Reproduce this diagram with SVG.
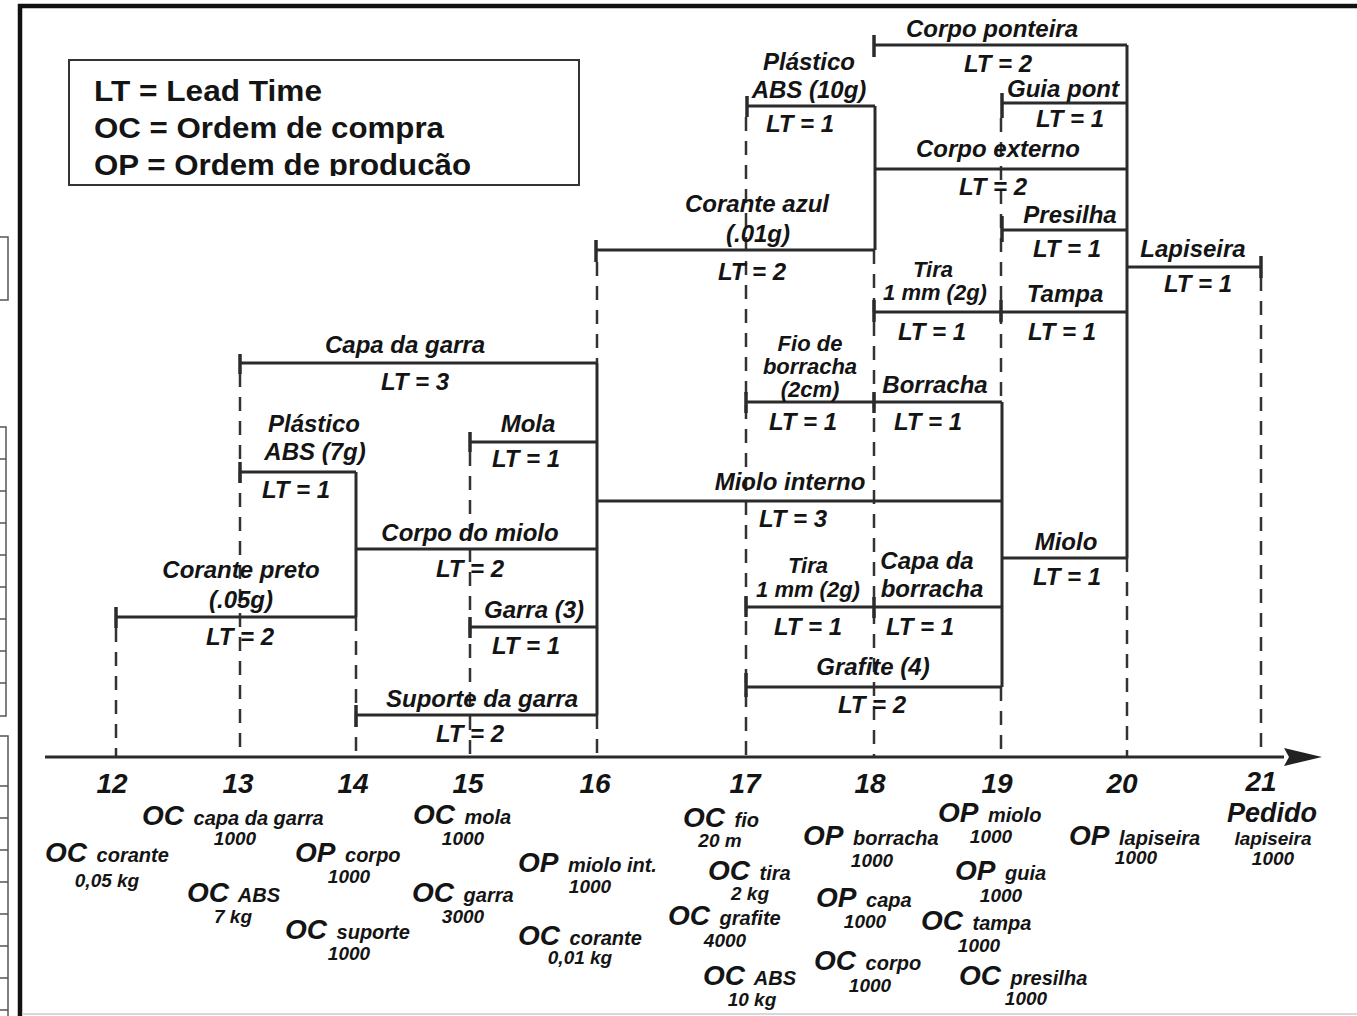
<svg xmlns="http://www.w3.org/2000/svg" width="1357" height="1016" viewBox="0 0 1357 1016">
<style>
.bar{stroke:#2b2b2b;stroke-width:3;fill:none}
.tk{stroke:#2b2b2b;stroke-width:3.5;fill:none}
.dash{stroke:#333;stroke-width:2.5;stroke-dasharray:14 10;fill:none}
.frag{stroke:#555;stroke-width:1.5;fill:none}
text{font-family:"Liberation Sans",Arial,Helvetica,sans-serif;font-weight:bold;fill:#141414}
.lbl{font-style:italic;font-size:24px;text-anchor:middle}
.st{font-size:22px}
.ax{font-style:italic;font-size:28px;text-anchor:middle}
.ord{font-style:italic}
.big{font-size:28px}
.sm{font-size:20px}
.num{font-style:italic;font-size:19px;text-anchor:middle}
.leg{font-size:29px}
</style>
<defs>
<marker id="arr" markerWidth="40" markerHeight="20" refX="0" refY="10" orient="auto" markerUnits="userSpaceOnUse">
<path d="M0,1 L38,10 L0,19 L5,10 Z" fill="#222"/>
</marker>
<clipPath id="legclip"><rect x="60" y="55" width="530" height="121"/></clipPath>
</defs>
<rect width="1357" height="1016" fill="#fff"/>
<g id="frame">
<line x1="18" y1="6" x2="1357" y2="6" stroke="#111" stroke-width="4.5"/>
<line x1="20" y1="4" x2="20" y2="1016" stroke="#111" stroke-width="4.5"/>
<line x1="22" y1="1014" x2="1357" y2="1014" stroke="#d8d8d8" stroke-width="2"/>
<rect class="frag" x="-2" y="237" width="10" height="63"/>
<rect class="frag" x="-2" y="427" width="8" height="289"/>
<path class="frag" d="M0,459H6M0,491H6M0,523H6M0,555H6M0,587H6M0,619H6M0,651H6M0,683H6"/>
<rect class="frag" x="-2" y="736" width="10" height="290"/>
<path class="frag" d="M0,786H8M0,818H8M0,850H8M0,882H8M0,914H8M0,946H8M0,978H8M0,1010H8"/>
</g>
<g id="legend">
<rect x="69" y="60" width="510" height="125" fill="none" stroke="#333" stroke-width="2"/>
<g clip-path="url(#legclip)">
<text class="leg" x="94" y="101" textLength="228" lengthAdjust="spacingAndGlyphs">LT = Lead Time</text>
<text class="leg" x="94" y="138" textLength="350" lengthAdjust="spacingAndGlyphs">OC = Ordem de compra</text>
<text class="leg" x="94" y="175" textLength="377" lengthAdjust="spacingAndGlyphs">OP = Ordem de producão</text>
</g>
</g>
<g id="guides">
<line class="dash" x1="116" y1="628" x2="116" y2="757"/>
<line class="dash" x1="240" y1="373" x2="240" y2="757"/>
<line class="dash" x1="356" y1="617" x2="356" y2="757"/>
<line class="dash" x1="470" y1="452" x2="470" y2="757"/>
<line class="dash" x1="597" y1="262" x2="597" y2="363"/>
<line class="dash" x1="597" y1="715" x2="597" y2="757"/>
<line class="dash" x1="746" y1="117" x2="746" y2="757"/>
<line class="dash" x1="874" y1="250" x2="874" y2="757"/>
<line class="dash" x1="1001" y1="118" x2="1001" y2="402"/>
<line class="dash" x1="1001" y1="687" x2="1001" y2="757"/>
<line class="dash" x1="1127" y1="558" x2="1127" y2="757"/>
<line class="dash" x1="1261" y1="277" x2="1261" y2="757"/>
</g>
<g id="connectors">
<line class="bar" x1="356" y1="472" x2="356" y2="617"/>
<line class="bar" x1="597" y1="363" x2="597" y2="715"/>
<line class="bar" x1="875" y1="106" x2="875" y2="250"/>
<line class="bar" x1="1002" y1="402" x2="1002" y2="687"/>
<line class="bar" x1="1127" y1="45" x2="1127" y2="558"/>
</g>
<g id="corpo-ponteira">
<line class="tk" x1="874" y1="35" x2="874" y2="57"/>
<line class="bar" x1="874" y1="45" x2="1127" y2="45"/>
<text class="lbl" x="992" y="37">Corpo ponteira</text>
<text class="lbl" x="998" y="72">LT = 2</text>
</g>
<g id="plastico-abs-10g">
<line class="tk" x1="747" y1="96" x2="747" y2="117"/>
<line class="bar" x1="747" y1="106" x2="875" y2="106"/>
<text class="lbl" x="809" y="70">Plástico</text>
<text class="lbl" x="809" y="98">ABS (10g)</text>
<text class="lbl" x="800" y="132">LT = 1</text>
</g>
<g id="corante-azul">
<line class="tk" x1="596" y1="240" x2="596" y2="262"/>
<line class="bar" x1="596" y1="250" x2="875" y2="250"/>
<text class="lbl" x="757" y="212">Corante azul</text>
<text class="lbl" x="758" y="242">(.01g)</text>
<text class="lbl" x="752" y="280">LT = 2</text>
</g>
<g id="corpo-externo">
<line class="bar" x1="875" y1="169" x2="1127" y2="169"/>
<text class="lbl" x="998" y="157">Corpo externo</text>
<text class="lbl" x="993" y="195">LT = 2</text>
</g>
<g id="guia-pont">
<line class="tk" x1="1002" y1="93" x2="1002" y2="118"/>
<line class="bar" x1="1002" y1="103" x2="1127" y2="103"/>
<text class="lbl" x="1063" y="97">Guia pont</text>
<text class="lbl" x="1070" y="127">LT = 1</text>
</g>
<g id="presilha">
<line class="tk" x1="1002" y1="216" x2="1002" y2="242"/>
<line class="bar" x1="1002" y1="230" x2="1127" y2="230"/>
<text class="lbl" x="1070" y="223">Presilha</text>
<text class="lbl" x="1067" y="257">LT = 1</text>
</g>
<g id="lapiseira">
<line class="bar" x1="1127" y1="267" x2="1261" y2="267"/>
<line class="tk" x1="1261" y1="256" x2="1261" y2="278"/>
<text class="lbl" x="1193" y="257">Lapiseira</text>
<text class="lbl" x="1198" y="292">LT = 1</text>
</g>
<g id="tira-top">
<line class="tk" x1="874" y1="300" x2="874" y2="322"/>
<line class="bar" x1="874" y1="312" x2="1001" y2="312"/>
<line class="tk" x1="1001" y1="300" x2="1001" y2="322"/>
<text class="lbl st" x="933" y="277">Tira</text>
<text class="lbl st" x="935" y="300">1 mm (2g)</text>
<text class="lbl" x="932" y="340">LT = 1</text>
</g>
<g id="tampa">
<line class="bar" x1="1001" y1="312" x2="1127" y2="312"/>
<text class="lbl" x="1065" y="302">Tampa</text>
<text class="lbl" x="1062" y="340">LT = 1</text>
</g>
<g id="capa-da-garra">
<line class="tk" x1="240" y1="354" x2="240" y2="374"/>
<line class="bar" x1="240" y1="363" x2="597" y2="363"/>
<text class="lbl" x="405" y="353">Capa da garra</text>
<text class="lbl" x="415" y="390">LT = 3</text>
</g>
<g id="mola">
<line class="tk" x1="470" y1="432" x2="470" y2="452"/>
<line class="bar" x1="470" y1="442" x2="597" y2="442"/>
<text class="lbl" x="528" y="432">Mola</text>
<text class="lbl" x="526" y="467">LT = 1</text>
</g>
<g id="plastico-abs-7g">
<line class="tk" x1="240" y1="462" x2="240" y2="483"/>
<line class="bar" x1="240" y1="472" x2="356" y2="472"/>
<text class="lbl" x="314" y="432">Plástico</text>
<text class="lbl" x="315" y="460">ABS (7g)</text>
<text class="lbl" x="296" y="498">LT = 1</text>
</g>
<g id="corpo-do-miolo">
<line class="bar" x1="356" y1="549" x2="597" y2="549"/>
<text class="lbl" x="470" y="541">Corpo do miolo</text>
<text class="lbl" x="470" y="577">LT = 2</text>
</g>
<g id="corante-preto">
<line class="tk" x1="116" y1="607" x2="116" y2="628"/>
<line class="bar" x1="116" y1="617" x2="356" y2="617"/>
<text class="lbl" x="241" y="578">Corante preto</text>
<text class="lbl" x="241" y="608">(.05g)</text>
<text class="lbl" x="240" y="645">LT = 2</text>
</g>
<g id="garra">
<line class="tk" x1="470" y1="617" x2="470" y2="638"/>
<line class="bar" x1="470" y1="627" x2="597" y2="627"/>
<text class="lbl" x="534" y="618">Garra (3)</text>
<text class="lbl" x="526" y="654">LT = 1</text>
</g>
<g id="suporte-da-garra">
<line class="tk" x1="356" y1="705" x2="356" y2="727"/>
<line class="bar" x1="356" y1="715" x2="597" y2="715"/>
<text class="lbl" x="482" y="707">Suporte da garra</text>
<text class="lbl" x="470" y="742">LT = 2</text>
</g>
<g id="fio-de-borracha">
<line class="tk" x1="746" y1="392" x2="746" y2="413"/>
<line class="bar" x1="746" y1="402" x2="874" y2="402"/>
<line class="tk" x1="874" y1="392" x2="874" y2="413"/>
<text class="lbl st" x="810" y="351">Fio de</text>
<text class="lbl st" x="810" y="374">borracha</text>
<text class="lbl st" x="810" y="397">(2cm)</text>
<text class="lbl" x="803" y="430">LT = 1</text>
</g>
<g id="borracha">
<line class="bar" x1="874" y1="402" x2="1002" y2="402"/>
<text class="lbl" x="935" y="393">Borracha</text>
<text class="lbl" x="928" y="430">LT = 1</text>
</g>
<g id="miolo-interno">
<line class="bar" x1="597" y1="501" x2="1002" y2="501"/>
<text class="lbl" x="790" y="490">Miolo interno</text>
<text class="lbl" x="793" y="527">LT = 3</text>
</g>
<g id="tira-lower">
<line class="tk" x1="746" y1="596" x2="746" y2="617"/>
<line class="bar" x1="746" y1="607" x2="874" y2="607"/>
<line class="tk" x1="874" y1="597" x2="874" y2="618"/>
<text class="lbl st" x="808" y="573">Tira</text>
<text class="lbl st" x="808" y="597">1 mm (2g)</text>
<text class="lbl" x="808" y="635">LT = 1</text>
</g>
<g id="capa-da-borracha">
<line class="bar" x1="874" y1="607" x2="1002" y2="607"/>
<text class="lbl" x="927" y="569">Capa da</text>
<text class="lbl" x="932" y="597">borracha</text>
<text class="lbl" x="920" y="635">LT = 1</text>
</g>
<g id="grafite">
<line class="tk" x1="746" y1="673" x2="746" y2="697"/>
<line class="bar" x1="746" y1="687" x2="1002" y2="687"/>
<text class="lbl" x="873" y="675">Grafite (4)</text>
<text class="lbl" x="872" y="713">LT = 2</text>
</g>
<g id="miolo">
<line class="bar" x1="1002" y1="558" x2="1127" y2="558"/>
<text class="lbl" x="1066" y="550">Miolo</text>
<text class="lbl" x="1067" y="585">LT = 1</text>
</g>
<g id="axis">
<line x1="45" y1="757" x2="1284" y2="757" stroke="#2b2b2b" stroke-width="3" marker-end="url(#arr)"/>
<text class="ax" x="112" y="793">12</text>
<text class="ax" x="238" y="793">13</text>
<text class="ax" x="353" y="793">14</text>
<text class="ax" x="468" y="793">15</text>
<text class="ax" x="595" y="793">16</text>
<text class="ax" x="745" y="793">17</text>
<text class="ax" x="870" y="793">18</text>
<text class="ax" x="997" y="793">19</text>
<text class="ax" x="1122" y="793">20</text>
<text class="ax" x="1261" y="791">21</text>
</g>
<g id="orders">
<text class="ord" x="142" y="825"><tspan class="big">OC</tspan><tspan class="sm" dx="4"> capa da garra</tspan></text>
<text class="num" x="235" y="845">1000</text>
<text class="ord" x="45" y="862"><tspan class="big">OC</tspan><tspan class="sm" dx="4"> corante</tspan></text>
<text class="num" x="107" y="887">0,05 kg</text>
<text class="ord" x="187" y="902"><tspan class="big">OC</tspan><tspan class="sm" dx="4"> ABS</tspan></text>
<text class="num" x="233" y="923">7 kg</text>
<text class="ord" x="295" y="862"><tspan class="big">OP</tspan><tspan class="sm" dx="4"> corpo</tspan></text>
<text class="num" x="349" y="883">1000</text>
<text class="ord" x="285" y="939"><tspan class="big">OC</tspan><tspan class="sm" dx="4"> suporte</tspan></text>
<text class="num" x="349" y="960">1000</text>
<text class="ord" x="413" y="824"><tspan class="big">OC</tspan><tspan class="sm" dx="4"> mola</tspan></text>
<text class="num" x="463" y="845">1000</text>
<text class="ord" x="412" y="902"><tspan class="big">OC</tspan><tspan class="sm" dx="4"> garra</tspan></text>
<text class="num" x="463" y="923">3000</text>
<text class="ord" x="518" y="872"><tspan class="big">OP</tspan><tspan class="sm" dx="4"> miolo int.</tspan></text>
<text class="num" x="590" y="893">1000</text>
<text class="ord" x="518" y="945"><tspan class="big">OC</tspan><tspan class="sm" dx="4"> corante</tspan></text>
<text class="num" x="580" y="964">0,01 kg</text>
<text class="ord" x="683" y="827"><tspan class="big">OC</tspan><tspan class="sm" dx="4"> fio</tspan></text>
<text class="num" x="720" y="847">20 m</text>
<text class="ord" x="708" y="880"><tspan class="big">OC</tspan><tspan class="sm" dx="4"> tira</tspan></text>
<text class="num" x="750" y="900">2 kg</text>
<text class="ord" x="668" y="925"><tspan class="big">OC</tspan><tspan class="sm" dx="4"> grafite</tspan></text>
<text class="num" x="725" y="947">4000</text>
<text class="ord" x="703" y="985"><tspan class="big">OC</tspan><tspan class="sm" dx="4"> ABS</tspan></text>
<text class="num" x="752" y="1006">10 kg</text>
<text class="ord" x="803" y="845"><tspan class="big">OP</tspan><tspan class="sm" dx="4"> borracha</tspan></text>
<text class="num" x="872" y="867">1000</text>
<text class="ord" x="816" y="907"><tspan class="big">OP</tspan><tspan class="sm" dx="4"> capa</tspan></text>
<text class="num" x="865" y="928">1000</text>
<text class="ord" x="814" y="970"><tspan class="big">OC</tspan><tspan class="sm" dx="4"> corpo</tspan></text>
<text class="num" x="870" y="992">1000</text>
<text class="ord" x="938" y="822"><tspan class="big">OP</tspan><tspan class="sm" dx="4"> miolo</tspan></text>
<text class="num" x="991" y="843">1000</text>
<text class="ord" x="955" y="880"><tspan class="big">OP</tspan><tspan class="sm" dx="4"> guia</tspan></text>
<text class="num" x="1001" y="902">1000</text>
<text class="ord" x="921" y="930"><tspan class="big">OC</tspan><tspan class="sm" dx="4"> tampa</tspan></text>
<text class="num" x="979" y="952">1000</text>
<text class="ord" x="959" y="985"><tspan class="big">OC</tspan><tspan class="sm" dx="4"> presilha</tspan></text>
<text class="num" x="1026" y="1005">1000</text>
<text class="ord" x="1069" y="845"><tspan class="big">OP</tspan><tspan class="sm" dx="4"> lapiseira</tspan></text>
<text class="num" x="1136" y="864">1000</text>
<text class="ord" x="1272" y="822" text-anchor="middle" font-size="27">Pedido</text>
<text class="num" x="1273" y="845" font-size="17">lapiseira</text>
<text class="num" x="1273" y="865" font-size="17">1000</text>
</g>
</svg>
